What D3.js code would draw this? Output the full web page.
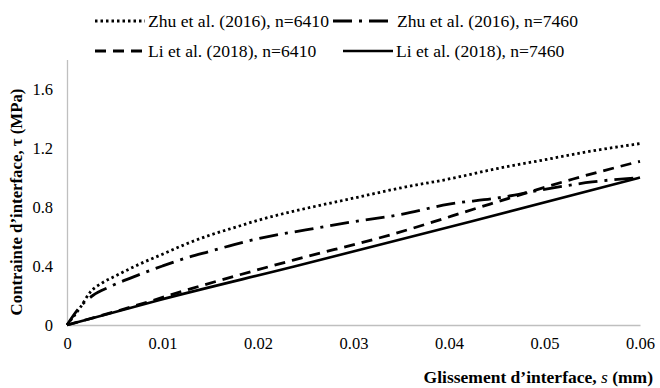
<!DOCTYPE html>
<html><head><meta charset="utf-8">
<script src="https://cdn.jsdelivr.net/npm/d3@7"></script>
<style>body{margin:0;background:#fff}svg{display:block}svg text{font-family:"Liberation Serif","DejaVu Serif",serif}</style>
</head><body>
<svg id="c" width="660" height="388"></svg>
<script>
const seriesNames = ["Zhu et al. (2016), n=6410","Zhu et al. (2016), n=7460","Li et al. (2018), n=6410","Li et al. (2018), n=7460"];
const zhu6410S = [0,0.0014,0.0024,0.0038,0.005,0.0075,0.01,0.0125,0.015,0.0175,0.02,0.025,0.03,0.035,0.04,0.045,0.05,0.055,0.06];
const zhu6410T = [0,0.12,0.22,0.29,0.33,0.41,0.48,0.55,0.61,0.66,0.71,0.79,0.86,0.93,0.99,1.06,1.12,1.18,1.23];
const zhu7460S = [0,0.0012,0.0027,0.0045,0.0075,0.01,0.0125,0.015,0.0175,0.02,0.025,0.03,0.035,0.04,0.045,0.05,0.055,0.06];
const zhu7460T = [0,0.11,0.20,0.26,0.34,0.40,0.455,0.50,0.545,0.585,0.645,0.70,0.75,0.82,0.86,0.92,0.97,1.00];
const li6410S = [0,0.0066,0.0132,0.0237,0.0338,0.0443,0.053,0.06];
const li6410T = [0,0.12,0.25,0.44,0.61,0.82,0.99,1.11];
const li7460S = [0,0.0097,0.024,0.0422,0.06];
const li7460T = [0,0.17,0.40,0.70,1.00];
const xTicks = [0,0.01,0.02,0.03,0.04,0.05,0.06];
const yTicks = [0,0.4,0.8,1.2,1.6];

const svg = d3.select("#c");
const x = d3.scaleLinear().domain([0,0.06]).range([67,640]);
const y = d3.scaleLinear().domain([0,1.8]).range([325,59.5]);

// axes
const xa = svg.append("g").attr("transform","translate(0,325)")
  .call(d3.axisBottom(x).tickValues(xTicks).tickSize(0).tickPadding(12)
    .tickFormat(d => d===0 ? "0" : d3.format(".2f")(d)));
xa.attr("font-family",null);
xa.select(".domain").attr("stroke","#bfbfbf").attr("stroke-width",1.3);
xa.selectAll("text").attr("font-size",16.5).attr("fill","#000");
const ya = svg.append("g").attr("transform","translate(67,0)")
  .call(d3.axisLeft(y).tickValues(yTicks).tickSize(0).tickPadding(14)
    .tickFormat(d => d===0 ? "0" : d3.format(".1f")(d)));
ya.attr("font-family",null);
ya.select(".domain").attr("stroke","#bfbfbf").attr("stroke-width",1.3);
ya.selectAll("text").attr("font-size",16.5).attr("fill","#000");

// lines
const series = [
  {s:zhu6410S,t:zhu6410T,dash:"2.5,3",w:2.8},
  {s:zhu7460S,t:zhu7460T,dash:"19,7,3,7",w:2.8},
  {s:li6410S,t:li6410T,dash:"11,7",w:2.8},
  {s:li7460S,t:li7460T,dash:null,w:2.6}
];
const line = d3.line().x(d=>x(d[0])).y(d=>y(d[1])).curve(d3.curveMonotoneX);
series.forEach(se=>{
  const pts = se.s.map((v,i)=>[v,se.t[i]]);
  svg.append("path").attr("d",line(pts)).attr("fill","none").attr("stroke","#000")
    .attr("stroke-width",se.w).attr("stroke-dasharray",se.dash);
});

// legend
const leg = [
  {x1:95,x2:145,y:21,tx:148,i:0},
  {x1:333,x2:395,y:21,tx:397,i:1},
  {x1:95,x2:145,y:51,tx:148,i:2},
  {x1:343,x2:393,y:51,tx:396,i:3}
];
leg.forEach(l=>{
  const se = series[l.i];
  svg.append("line").attr("x1",l.x1).attr("x2",l.x2).attr("y1",l.y).attr("y2",l.y)
    .attr("stroke","#000").attr("stroke-width",se.w).attr("stroke-dasharray",se.dash);
  svg.append("text").attr("x",l.tx).attr("y",l.y+6)
    .attr("font-size",17.6).text(seriesNames[l.i]);
});

// axis titles
svg.append("text").attr("transform","translate(22,202) rotate(-90)").attr("text-anchor","middle")
  .attr("font-size",16.8).attr("font-weight","bold")
  .text("Contrainte d\u2019interface, \u03c4 (MPa)");
const xt = svg.append("text").attr("x",653).attr("y",383).attr("text-anchor","end")
  .attr("font-size",17.5).attr("font-weight","bold");
xt.append("tspan").text("Glissement d\u2019interface, ");
xt.append("tspan").attr("font-style","italic").attr("font-weight","normal").text("s");
xt.append("tspan").text(" (mm)");
</script>
</body></html>
